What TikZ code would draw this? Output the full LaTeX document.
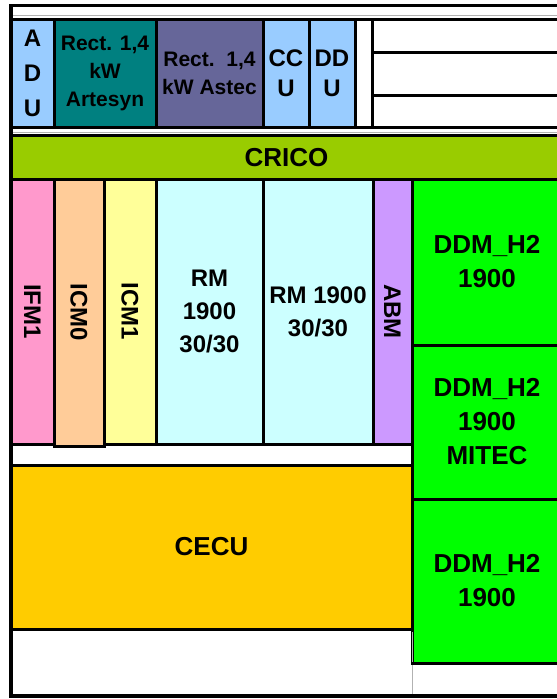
\documentclass[tikz,border=0pt]{standalone}
\usepackage{fontspec}
\setmainfont{Liberation Sans}
\usepackage{graphicx}
\definecolor{unitblue}{RGB}{153,204,255}
\definecolor{artteal}{RGB}{0,128,128}
\definecolor{astslate}{RGB}{102,102,153}
\definecolor{cricogreen}{RGB}{153,204,0}
\definecolor{ifmpink}{RGB}{255,153,204}
\definecolor{icmpeach}{RGB}{255,204,153}
\definecolor{icmyellow}{RGB}{255,255,153}
\definecolor{rmcyan}{RGB}{204,255,255}
\definecolor{abmlilac}{RGB}{204,153,255}
\definecolor{ddmgreen}{RGB}{0,255,0}
\definecolor{cecugold}{RGB}{255,204,0}

\begin{document}
\begin{tikzpicture}[
    x=1pt, y=-1pt,
    box/.style={rectangle, draw=black, line width=3pt, inner sep=0pt, outer sep=0pt,
                align=center, font=\fontsize{24}{33}\selectfont\bfseries},
    bigbox/.style={box, font=\fontsize{26}{34}\selectfont\bfseries},
    rectbox/.style={box, font=\fontsize{21}{28}\selectfont\bfseries},
    wh/.style 2 args={minimum width=#1pt, minimum height=#2pt},
    cell/.style={draw=black, line width=3pt},
    rule/.style={draw=gray!60, line width=1pt}
  ]
    \clip (0,0) rectangle (557,699);
    \fill[white] (0,0) rectangle (557,699);

    % top row
    \node[box, fill=unitblue, wh={43}{108}, font=\fontsize{24}{35}\selectfont\bfseries]
         (adu) at (32.5,73) {A\\D\\U};
    \node[rectbox, fill=artteal, wh={102}{108}]  (art) at (105,73)   {Rect. 1,4\\kW\\Artesyn};
    \node[rectbox, fill=astslate, wh={107}{108}] (ast) at (209.5,73) {Rect.\ \ 1,4\\kW Astec};
    \node[box, fill=unitblue, wh={46}{108}, font=\fontsize{24}{30}\selectfont\bfseries]
         (ccu) at (286,73) {CC\\U};
    \node[box, fill=unitblue, wh={46}{108}, font=\fontsize{24}{30}\selectfont\bfseries]
         (ddu) at (332,73) {DD\\U};
    \draw[cell] (355,19) rectangle (372,127);
    \draw[cell] (372,19) rectangle (562,52);
    \draw[cell] (372,52) rectangle (562,95);
    \draw[cell] (372,95) rectangle (562,127);

    \node[bigbox, fill=cricogreen, wh={551}{43.5}] (crico) at (286.5,157.25) {CRICO};

    % module row
    \node[box, fill=ifmpink, wh={43}{265}]   (ifm)  at (32.5,311.5) {\rotatebox{-90}{IFM1}};
    \node[box, fill=icmpeach, wh={50}{267}]  (icm0) at (79,312.5)   {\rotatebox{-90}{ICM0}};
    \node[box, fill=icmyellow, wh={52}{265}] (icm1) at (130,311.5)  {\rotatebox{-90}{ICM1}};
    \node[box, fill=rmcyan, wh={107}{265}]   (rma)  at (209.5,311.5) {RM\\1900\\30/30};
    \node[box, fill=rmcyan, wh={110}{265}]   (rmb)  at (318,311.5)  {RM 1900\\30/30};
    \node[box, fill=abmlilac, wh={39}{265}]  (abm)  at (392.5,311.5) {\rotatebox{-90}{ABM}};

    % right column
    \node[bigbox, fill=ddmgreen, wh={150}{166}] (ddma) at (487,262) {DDM\_H2\\1900};
    \node[bigbox, fill=ddmgreen, wh={150}{154}] (ddmb) at (487,422) {DDM\_H2\\1900\\MITEC};
    \node[bigbox, fill=ddmgreen, wh={150}{164}] (ddmc) at (487,581) {DDM\_H2\\1900};

    \node[bigbox, fill=cecugold, wh={401}{164}] (cecu) at (211.5,547) {CECU};

    % thin rules and frame
    \draw[rule] (12,15) -- (557,15);
    \draw[rule] (12,132) -- (557,132);
    \draw[rule] (412,632) -- (412,694);
    \draw[line width=3.5pt] (562,5.5) -- (11,5.5) -- (11,696) -- (562,696);
    \draw[cell] (11,629) -- (412,629);
    \draw[cell] (412,663) -- (562,663);
\end{tikzpicture}
\end{document}
